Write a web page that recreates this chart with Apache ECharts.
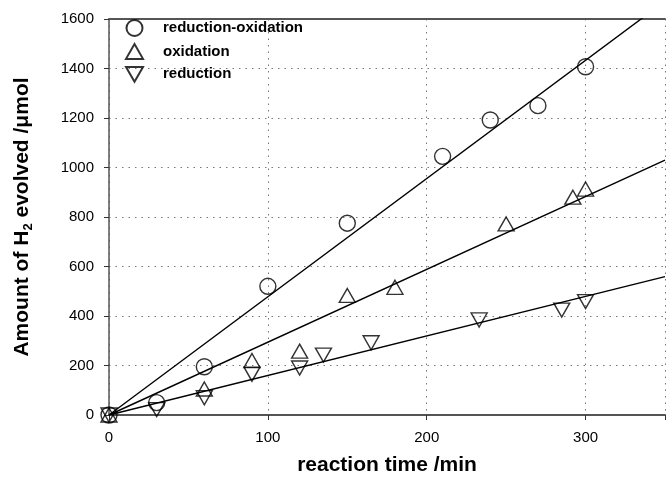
<!DOCTYPE html>
<html>
<head>
<meta charset="utf-8">
<script src="https://cdn.jsdelivr.net/npm/echarts@6/dist/echarts.min.js"></script>
<style>html,body{margin:0;padding:0;background:#fff}#c{width:668px;height:483px}</style>
</head>
<body>
<div id="c"></div>
<script>
// reaction-oxidation
var timeRO = [0, 30, 60, 100, 150, 210, 240, 270, 300];
var valRO  = [0, 50, 195, 520, 775, 1045, 1192, 1250, 1407];
// oxidation
var timeOx = [0, 60, 90, 120, 150, 180, 250, 292, 300];
var valOx  = [0, 105, 220, 258, 483, 516, 772, 880, 913];
// reduction
var timeRed = [0, 30, 60, 90, 120, 135, 165, 233, 285, 300];
var valRed  = [0, 22, 70, 165, 190, 242, 292, 384, 424, 458];
// fitted lines (end points)
var fitX   = [0, 350];
var fitRO  = [0, 1672];
var fitOx  = [0, 1030];
var fitRed = [0, 559];
var seriesNames = ['reduction-oxidation', 'oxidation', 'reduction'];
var xTicks = [0, 100, 200, 300];
var yTicks = [0, 200, 400, 600, 800, 1000, 1200, 1400, 1600];

function pairs(xs, ys) { return xs.map(function (x, i) { return [x, ys[i]]; }); }

var font = 'Liberation Sans, Arial, sans-serif';
var mk = { color: 'rgba(255,255,255,0)', borderColor: '#000', borderWidth: 1.4 };
var dotted = { color: '#777', width: 1, type: [1.5, 5] };
var upTri = 'path://M8,0 L16,14 L0,14 Z';
var downTri = 'path://M0,0 L16,0 L8,14 Z';

var chart = echarts.init(document.getElementById('c'), null, { renderer: 'canvas' });
chart.setOption({
  animation: false,
  backgroundColor: '#fff',
  textStyle: { fontFamily: font },
  grid: { left: 109, right: 0, top: 19, bottom: 68 },
  legend: {
    orient: 'vertical', left: 120, top: 14,
    itemWidth: 17, itemHeight: 16, itemGap: 6,
    data: [
      { name: seriesNames[0], icon: 'circle' },
      { name: seriesNames[1], icon: upTri },
      { name: seriesNames[2], icon: downTri }
    ],
    textStyle: { fontFamily: font, fontSize: 15, fontWeight: 'bold', color: '#000', padding: [0, 0, 0, 15] }
  },
  xAxis: [{
    type: 'value', min: 0, max: 350, interval: 100,
    name: 'reaction time /min', nameLocation: 'middle', nameGap: 40,
    nameTextStyle: { fontFamily: font, fontSize: 21, fontWeight: 'bold', color: '#000' },
    axisLine: { show: true, onZero: false, lineStyle: { color: '#555', width: 2 } },
    axisTick: { show: true, inside: false, length: 5, lineStyle: { color: '#333', width: 1 } },
    axisLabel: { fontFamily: font, fontSize: 15, color: '#000', margin: 15,
      formatter: function (v) { return xTicks.indexOf(v) >= 0 ? String(v) : ''; } },
    splitLine: { show: true, lineStyle: dotted }
  }, {
    type: 'value', position: 'top', min: 0, max: 350,
    axisLine: { show: true, onZero: false, lineStyle: { color: '#555', width: 2 } },
    axisTick: { show: false }, axisLabel: { show: false }, splitLine: { show: false }
  }],
  yAxis: {
    type: 'value', min: 0, max: 1600, interval: 200,
    name: 'Amount of H{sub|2} evolved /μmol', nameLocation: 'middle', nameGap: 74,
    nameTextStyle: { fontFamily: font, fontSize: 21, fontWeight: 'bold', color: '#000',
      rich: { sub: { fontFamily: font, fontSize: 13, fontWeight: 'bold', color: '#000', verticalAlign: 'bottom', padding: [12, 0, 0, 0] } } },
    axisLine: { show: true, onZero: false, lineStyle: { color: '#555', width: 1.5 } },
    axisTick: { show: true, inside: false, length: 5, lineStyle: { color: '#333', width: 1 } },
    axisLabel: { fontFamily: font, fontSize: 15, color: '#000', margin: 15,
      formatter: function (v) { return yTicks.indexOf(v) >= 0 ? String(v) : ''; } },
    splitLine: { show: true, lineStyle: dotted }
  },
  series: [
    { name: 'fitRO', type: 'line', data: pairs(fitX, fitRO), showSymbol: false, clip: true,
      lineStyle: { color: '#000', width: 1.4 }, silent: true, z: 2 },
    { name: 'fitOx', type: 'line', data: pairs(fitX, fitOx), showSymbol: false, clip: true,
      lineStyle: { color: '#000', width: 1.4 }, silent: true, z: 2 },
    { name: 'fitRed', type: 'line', data: pairs(fitX, fitRed), showSymbol: false, clip: true,
      lineStyle: { color: '#000', width: 1.4 }, silent: true, z: 2 },
    { name: seriesNames[0], type: 'scatter', data: pairs(timeRO, valRO), symbol: 'circle',
      symbolSize: 16, itemStyle: mk, clip: false, z: 3 },
    { name: seriesNames[1], type: 'scatter', data: pairs(timeOx, valOx), symbol: upTri,
      symbolSize: [16, 14], itemStyle: mk, clip: false, z: 3 },
    { name: seriesNames[2], type: 'scatter', data: pairs(timeRed, valRed), symbol: downTri,
      symbolSize: [16, 14], itemStyle: mk, clip: false, z: 3 }
  ]
});
</script>
</body>
</html>
